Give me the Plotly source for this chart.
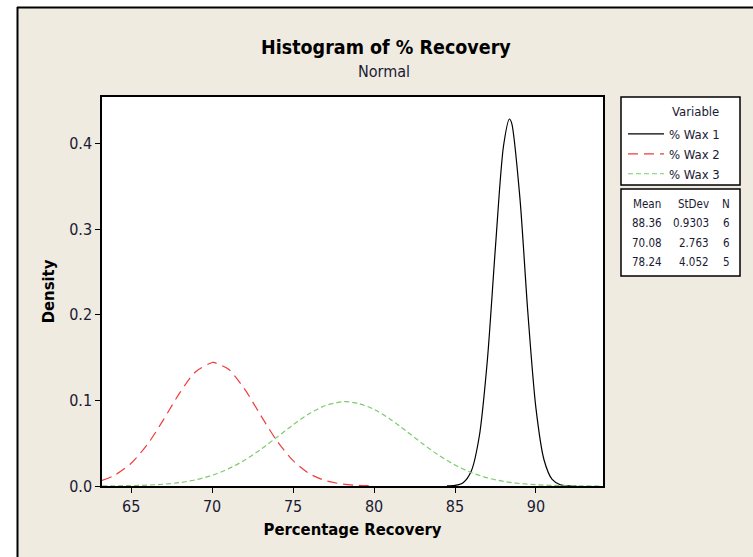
import plotly.graph_objects as go

# ---- data ----
series_names = ["% Wax 1", "% Wax 2", "% Wax 3"]
means = [88.36, 70.08, 78.24]
stdevs = ["0.9303", "2.763", "4.052"]
counts = [6, 6, 5]

wax1_x = [84.5, 85, 85.5, 86, 86.5, 87, 87.5, 88, 88.36, 88.5, 89, 89.5, 90, 90.5, 91, 91.5, 92, 92.5]
wax1_y = [0.0001, 0.00063, 0.0038, 0.0172, 0.0581, 0.1473, 0.2797, 0.3978, 0.4288, 0.4240, 0.3384,
          0.2024, 0.0907, 0.0304, 0.00765, 0.00144, 0.0002, 0.0]

wax2_x = [63.2, 64, 65, 66, 67, 68, 69, 70, 70.08, 71, 72, 73, 74, 75, 76, 77, 78, 79, 80]
wax2_y = [0.0065, 0.0128, 0.0266, 0.0485, 0.0776, 0.1088, 0.1338, 0.1443, 0.1444, 0.1366, 0.1134,
          0.0826, 0.0528, 0.0296, 0.0145, 0.0063, 0.0024, 0.0008, 0.0002]

wax3_x = [63.2, 64, 65, 66, 67, 68, 69, 70, 71, 72, 73, 74, 75, 76, 77, 78, 78.24, 79, 80, 81, 82,
          83, 84, 85, 86, 87, 88, 89, 90, 91, 92, 93, 94.1]
wax3_y = [0.0001, 0.0002, 0.0005, 0.0010, 0.0021, 0.0040, 0.0073, 0.0125, 0.0200, 0.0301, 0.0427,
          0.0570, 0.0715, 0.0845, 0.0940, 0.0983, 0.0985, 0.0967, 0.0896, 0.0781, 0.0640, 0.0494,
          0.0358, 0.0245, 0.0157, 0.0095, 0.0054, 0.0029, 0.0015, 0.0007, 0.0003, 0.0001, 0.0]

x_ticks = [65, 70, 75, 80, 85, 90]
y_ticks = [0.0, 0.1, 0.2, 0.3, 0.4]
y_tick_labels = ["0.0", "0.1", "0.2", "0.3", "0.4"]

# ---- layout geometry (pixels) ----
W, H = 753, 557
L, R, T, B = 102, 603, 97, 486
BG = "#EFEBE1"
FONT = "DejaVu Sans Condensed, DejaVu Sans, sans-serif"
TXT = "#1a1a33"


def px2x(px):
    return (px - L) / (R - L)


def py2y(py):
    return (B - py) / (B - T)


def note(text, px, py, font, xanchor="center"):
    return dict(text=text, x=px2x(px), y=py2y(py), xref="paper", yref="paper", showarrow=False,
                xanchor=xanchor, yanchor="middle", font=font)


fig = go.Figure()
styles = [
    dict(color="black", width=1.2, dash="solid"),
    dict(color="#F03C3C", width=1.2, dash="10px,6px"),
    dict(color="#7CCB6C", width=1.2, dash="5px,3px"),
]
for name, xs, ys, st in zip(series_names, [wax1_x, wax2_x, wax3_x], [wax1_y, wax2_y, wax3_y], styles):
    fig.add_trace(go.Scatter(x=xs, y=ys, mode="lines", name=name,
                             line=dict(color=st["color"], width=st["width"], dash=st["dash"],
                                       shape="spline", smoothing=0.8),
                             hoverinfo="skip"))

shapes = []
# white strips + frame lines around the window
shapes.append(dict(type="rect", xref="paper", yref="paper", x0=px2x(0), x1=px2x(17), y0=py2y(H), y1=py2y(0),
                   fillcolor="white", line=dict(width=0), layer="below"))
shapes.append(dict(type="rect", xref="paper", yref="paper", x0=px2x(0), x1=px2x(W), y0=py2y(7), y1=py2y(0),
                   fillcolor="white", line=dict(width=0), layer="below"))
shapes.append(dict(type="line", xref="paper", yref="paper", x0=px2x(17.5), x1=px2x(17.5), y0=py2y(H), y1=py2y(7),
                   line=dict(color="black", width=2)))
shapes.append(dict(type="line", xref="paper", yref="paper", x0=px2x(17), x1=px2x(W), y0=py2y(7.5), y1=py2y(7.5),
                   line=dict(color="black", width=2)))
# legend boxes
for (y0, y1) in [(97, 185), (189, 276)]:
    shapes.append(dict(type="rect", xref="paper", yref="paper", x0=px2x(621), x1=px2x(740),
                       y0=py2y(y1), y1=py2y(y0), fillcolor="white", line=dict(color="black", width=1.5),
                       layer="below"))

annotations = []
annotations.append(note("<b>Histogram of % Recovery</b>", 386, 47, dict(family=FONT, size=19.5, color="black")))
annotations.append(note("Normal", 384, 72, dict(family=FONT, size=16, color=TXT)))
annotations.append(note("Variable", 695, 111, dict(family=FONT, size=13, color=TXT)))
# stats table
tfont = dict(family=FONT, size=11.5, color=TXT)
annotations.append(note("Mean", 647, 204, tfont))
annotations.append(note("StDev", 711, 204, tfont, "right"))
annotations.append(note("N", 726, 204, tfont))
for i, (m, s, n) in enumerate(zip(means, stdevs, counts)):
    yy = 223 + 19.5 * i
    annotations.append(note(f"{m:.2f}", 664, yy, tfont, "right"))
    annotations.append(note(s, 711, yy, tfont, "right"))
    annotations.append(note(str(n), 726, yy, tfont))

fig.update_layout(
    width=W, height=H,
    margin=dict(l=L, r=W - R, t=T, b=H - B, pad=0),
    paper_bgcolor=BG, plot_bgcolor="white",
    font=dict(family=FONT, size=12, color=TXT),
    showlegend=True,
    legend=dict(x=px2x(623), y=py2y(119), xanchor="left", yanchor="top", bgcolor="rgba(0,0,0,0)",
                font=dict(family=FONT, size=13, color=TXT), tracegroupgap=0, itemwidth=36),
    shapes=shapes, annotations=annotations,
    xaxis=dict(range=[63.2, 94.14], tickvals=x_ticks, ticks="outside", ticklen=5, tickwidth=1, tickcolor="black",
               showline=True, linecolor="black", linewidth=1.5, mirror=True, showgrid=False, zeroline=False,
               tickfont=dict(family=FONT, size=16, color=TXT),
               title=dict(text="<b>Percentage Recovery</b>", font=dict(family=FONT, size=16.5, color="black"),
                          standoff=8)),
    yaxis=dict(range=[0, 0.4545], tickvals=y_ticks, ticktext=y_tick_labels, ticks="outside", ticklen=5,
               tickwidth=1, tickcolor="black", showline=True, linecolor="black", linewidth=1.5, mirror=True,
               showgrid=False, zeroline=False, tickfont=dict(family=FONT, size=16, color=TXT),
               title=dict(text="<b>Density</b>", font=dict(family=FONT, size=16.5, color="black"), standoff=10)),
)

fig.write_html("out.html")
